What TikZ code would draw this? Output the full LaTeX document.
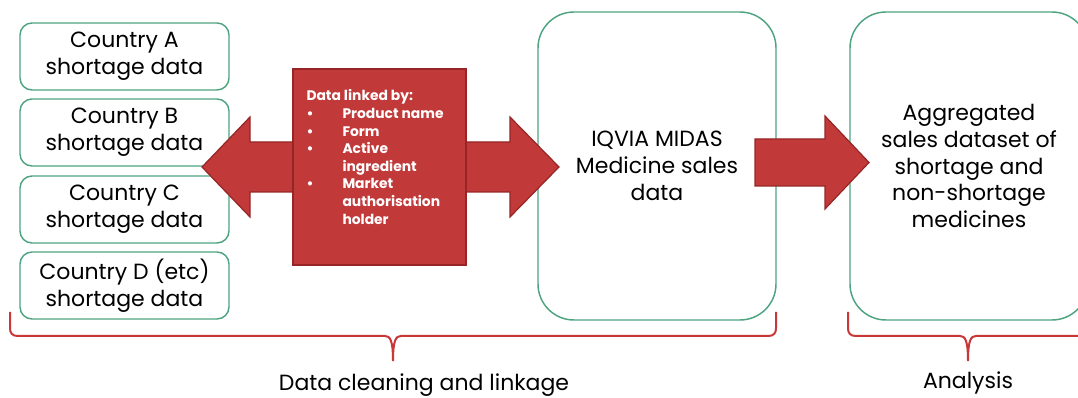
\documentclass[tikz,border=0pt]{standalone}
\usepackage{fontspec}
\setmainfont{Poppins}
\usetikzlibrary{positioning}

\definecolor{boxgreen}{RGB}{78,163,128}
\definecolor{arrowred}{RGB}{194,57,57}
\definecolor{arrowrim}{RGB}{150,38,38}
\definecolor{bracered}{RGB}{200,56,56}

\newcommand\diagfont{\fontsize{16.5}{20}\selectfont}
\newcommand\listfont{\fontsize{10.4}{13.2}\selectfont\bfseries}

\tikzset{every picture/.style={line width=0.75pt}}
\tikzset{
  countrybox/.style={draw=boxgreen, line width=1.1pt, rounded corners=9pt,
    minimum width=156.75pt, minimum height=50.25pt, inner sep=0pt,
    align=center, font=\diagfont},
  salesbox/.style={draw=boxgreen, line width=1.1pt, rounded corners=27pt,
    minimum width=178.5pt, minimum height=231pt, inner sep=0pt,
    align=center, font=\diagfont},
  blockarrow/.style={fill=arrowred, draw=arrowrim, line width=0.9pt, line join=miter},
  linkbox/.style={fill=arrowred, draw=arrowrim, line width=0.9pt,
    minimum width=129.75pt, minimum height=147pt, inner sep=0pt},
  linktext/.style={text=white, font=\listfont, inner sep=0pt, align=left},
  bracket/.style={draw=bracered, line width=1.5pt},
  bracelabel/.style={font=\diagfont, inner sep=0pt}
}

\begin{document}
\begin{tikzpicture}[x=0.75pt,y=0.75pt,yscale=-1,xscale=1]
\useasboundingbox (0,0) rectangle (1078,398);

%Rounded boxes: one per country
\node [countrybox] (countryA) at (124.5,56.5) {Country A\\shortage data};
\node [countrybox] (countryB) at (124.5,132.5) {Country B\\shortage data};
\node [countrybox] (countryC) at (124.5,209.5) {Country C\\shortage data};
\node [countrybox] (countryD) at (124.5,285.5) {Country D (etc)\\shortage data};

%Rounded boxes: sales data and the aggregated dataset
\node [salesbox] (midas) at (657,166) {IQVIA MIDAS\\Medicine sales\\data};
\node [salesbox] (aggregate) at (969,166) {Aggregated\\sales dataset of\\shortage and\\non-shortage\\medicines};

%Shape: Left-Right Arrow
\draw [blockarrow] (202,167) -- (250,117) -- (250,142) -- (510,142) -- (510,117) -- (559,167) -- (510,217) -- (510,192) -- (250,192) -- (250,217) -- cycle ;
%Shape: Square over the arrow
\node [linkbox] (linkage) at (379.5,167) {};
% Text Node
\node [linktext, anchor=north west] (linkitems) at (306,88) {%
  \begin{tabular}{@{}p{27pt}@{}l@{}}
  \multicolumn{2}{@{}l@{}}{Data linked by:}\\
  \textbullet & Product name\\
  \textbullet & Form\\
  \textbullet & Active\\
              & ingredient\\
  \textbullet & Market\\
              & authorisation\\
              & holder
  \end{tabular}};

%Shape: Right Arrow
\draw [blockarrow] (755,139) -- (825,139) -- (825,116) -- (869,162.5) -- (825,209) -- (825,186) -- (755,186) -- cycle ;

%Shape: Brace
\draw [bracket] (10,312) -- (10,328) .. controls (10,333) and (12,336) .. (18,336) -- (385,336) .. controls (390,336) and (393,340) .. (393,361) .. controls (393,340) and (396,336) .. (401,336) -- (768,336) .. controls (774,336) and (776,333) .. (776,328) -- (776,312) ;
%Shape: Brace
\draw [bracket] (848,312) -- (848,328) .. controls (848,333) and (850,336) .. (856,336) -- (960,336) .. controls (965,336) and (968,340) .. (968,361) .. controls (968,340) and (971,336) .. (976,336) -- (1080,336) .. controls (1086,336) and (1088,333) .. (1088,328) -- (1088,312) ;

% Text Node
\node [bracelabel, anchor=base] (cleaning) at (424,391) {Data cleaning and linkage};
% Text Node
\node [bracelabel, anchor=base] (analysis) at (968,389) {Analysis};

\end{tikzpicture}
\end{document}
